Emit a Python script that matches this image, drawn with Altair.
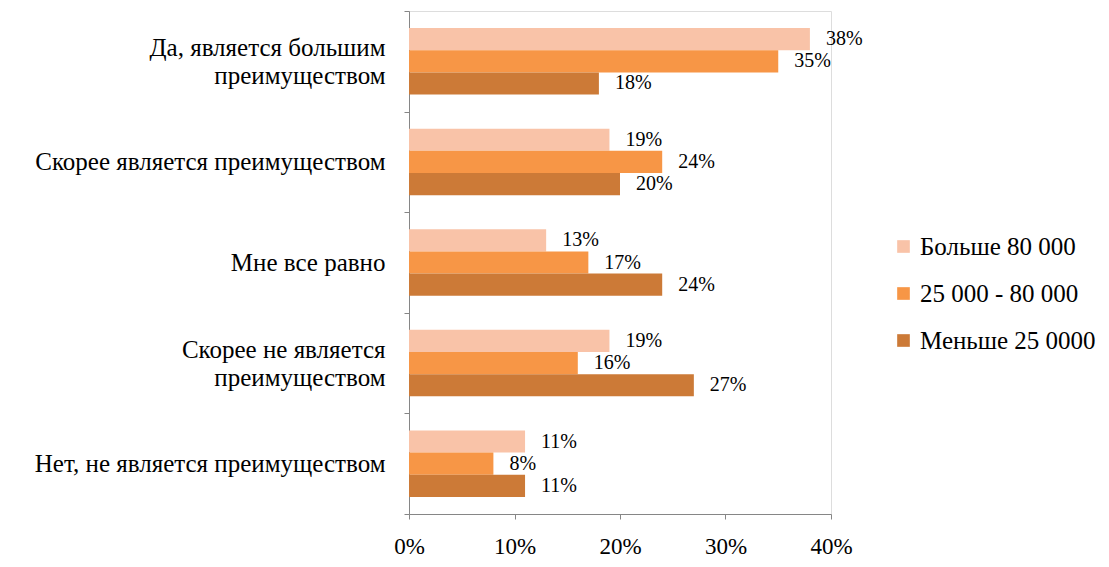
import altair as alt
import pandas as pd

categories = [
    "Да, является большим\nпреимуществом",
    "Скорее является преимуществом",
    "Мне все равно",
    "Скорее не является\nпреимуществом",
    "Нет, не является преимуществом",
]
series = ["Больше 80 000", "25 000 - 80 000", "Меньше 25 0000"]
colors = ["#F9C3A8", "#F79646", "#CC7A37"]
values_high = [0.38, 0.19, 0.13, 0.19, 0.11]
values_mid = [0.35, 0.24, 0.17, 0.16, 0.08]
values_low = [0.18, 0.20, 0.24, 0.27, 0.11]

rows = []
for s, vals in zip(series, [values_high, values_mid, values_low]):
    for c, v in zip(categories, vals):
        rows.append({"cat": c, "series": s, "value": v})
df = pd.DataFrame(rows)

FONT = "Liberation Serif"

base = alt.Chart(df).encode(
    y=alt.Y(
        "cat:N",
        sort=categories,
        title=None,
        scale=alt.Scale(paddingInner=0, paddingOuter=0),
        axis=alt.Axis(
            tickBand="extent",
            tickSize=5,
            labelPadding=19,
            labelFont=FONT,
            labelFontSize=25,
            labelColor="black",
            labelLineHeight=28,
            labelOffset={
                "condition": {
                    "test": "isValid(datum.value) && indexof(datum.value, '\\n') >= 0",
                    "value": -14,
                },
                "value": 0,
            },
            labelExpr="isValid(datum.value) ? split(datum.value, '\\n') : ''",
            domainColor="#868686",
            tickColor="#868686",
            labelLimit=500,
        ),
    ),
    yOffset=alt.YOffset(
        "series:N", sort=series, scale=alt.Scale(paddingOuter=0.77, paddingInner=0)
    ),
    x=alt.X(
        "value:Q",
        title=None,
        scale=alt.Scale(domain=[0, 0.4], nice=False),
        axis=alt.Axis(
            values=[0, 0.1, 0.2, 0.3, 0.4],
            format=".0%",
            grid=False,
            tickSize=5,
            labelPadding=16,
            labelFlush=False,
            labelFont=FONT,
            labelFontSize=23,
            labelColor="black",
            domainColor="#868686",
            tickColor="#868686",
        ),
    ),
)

bars = base.mark_bar().encode(
    color=alt.Color(
        "series:N",
        sort=series,
        scale=alt.Scale(domain=series, range=colors),
        legend=alt.Legend(
            title=None,
            orient="none",
            legendX=482,
            legendY=223,
            symbolType="square",
            symbolSize=160,
            symbolStrokeWidth=0,
            labelFont=FONT,
            labelFontSize=25,
            labelColor="black",
            rowPadding=21,
            labelOffset=4,
            labelLimit=300,
        ),
    )
)

labels = base.mark_text(
    align="left", baseline="middle", dx=16, font=FONT, fontSize=20, color="black"
).encode(text=alt.Text("value:Q", format=".0%"))

chart = (
    (bars + labels)
    .properties(
        width=422,
        height=503,
        autosize=alt.AutoSizeParams(type="none"),
        padding={"left": 401, "top": 3, "right": 268, "bottom": 45},
    )
    .configure_view(stroke=None)
    .configure(background="white")
)

chart.save("out.html", embed_options={"renderer": "svg", "actions": False})
